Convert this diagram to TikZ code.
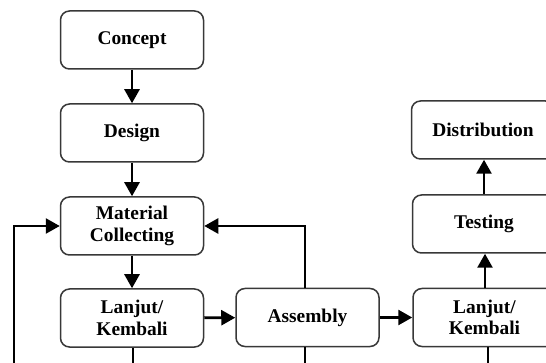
\documentclass[tikz,border=0pt]{standalone}
\usepackage{fontspec}
\setmainfont{Liberation Serif}
\usetikzlibrary{arrows.meta}
\begin{document}
\begin{tikzpicture}[x=0.5pt,y=-0.5pt,
  box/.style={draw=black!78,line width=0.75pt,rounded corners=4.5pt,
    minimum width=71.5pt,minimum height=29pt,align=center,inner sep=0pt,
    font=\fontsize{9.7}{10.8}\selectfont\bfseries},
  arr/.style={line width=1.3pt,-{Triangle[length=7pt,width=7.5pt]}},
  ln/.style={line width=1.3pt}]
\useasboundingbox (0,0) rectangle (546,363);
\clip (0,0) rectangle (546,363);
\node[box] (concept) at (132,40) {Concept};
\node[box] (design) at (132,133) {Design};
\node[box] (material) at (132,226) {Material\\Collecting};
\node[box] (lanjutA) at (132,318) {Lanjut/\\Kembali};
\node[box] (assembly) at (307.5,317.5) {Assembly};
\node[box] (lanjutB) at (484.5,317.5) {Lanjut/\\Kembali};
\node[box] (testing) at (484,224) {Testing};
\node[box] (distribution) at (483,130) {Distribution};
\coordinate (fbL) at (14,370);
\coordinate (outA) at (133,370);
\coordinate (outB) at (305,370);
\coordinate (outC) at (488,370);
\draw[arr] (concept) -- (design);
\draw[arr] (design) -- (material);
\draw[arr] (material) -- (lanjutA);
\draw[arr] (lanjutA) -- (assembly);
\draw[arr] (assembly) -- (lanjutB);
\draw[arr] (lanjutB.north -| 485,0) -- (testing.south -| 485,0);
\draw[arr] (testing.north -| 484,0) -- (distribution.south -| 484,0);
\draw[arr] (fbL) |- (material.west);
\draw[arr] (assembly.north -| outB) |- (material.east);
\draw[ln] (lanjutA.south -| outA) -- (outA);
\draw[ln] (assembly.south -| outB) -- (outB);
\draw[ln] (lanjutB.south -| outC) -- (outC);
\end{tikzpicture}
\end{document}
